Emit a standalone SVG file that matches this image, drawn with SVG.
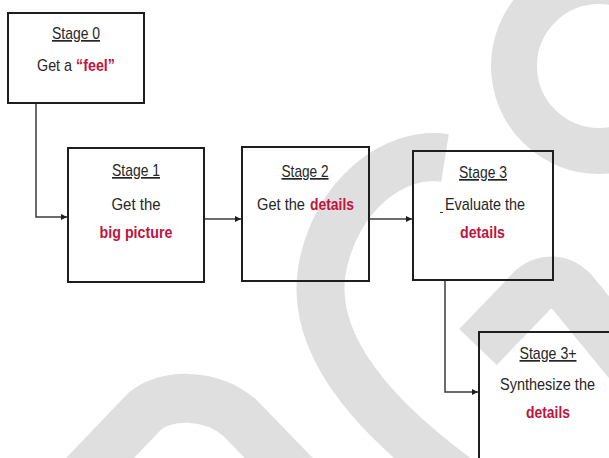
<svg xmlns="http://www.w3.org/2000/svg" width="609" height="458" viewBox="0 0 609 458">
<defs>
<style>
.wm{fill:none;stroke:#dfdfdf;stroke-linecap:butt;stroke-linejoin:round}
.box{fill:none;stroke:#1e1e1e;stroke-width:2}
.t{font-family:"Liberation Sans",Arial,sans-serif;font-size:17px;fill:#262626;text-anchor:middle}
.s{text-anchor:start}
.u{text-decoration:underline}
.r{fill:#c0143c;font-weight:bold}
.con{fill:none;stroke:#3c3c3c;stroke-width:1.5}
</style>
<marker id="ah" markerUnits="userSpaceOnUse" markerWidth="7" markerHeight="6" refX="6" refY="3" orient="auto">
<path d="M0,0 L6,3 L0,6 z" fill="#1e1e1e"/>
</marker>
</defs>
<rect width="609" height="458" fill="#ffffff"/>
<g id="watermark">
<circle class="wm" cx="599" cy="66" r="85" stroke-width="46"/>
<path class="wm" stroke-width="48" d="M445,158 C395,150 335,195 322,270 C312,330 350,400 460,480"/>
<path class="wm" stroke-width="49" d="M55,505 L145,411 C165,394 210,392 240,418 L300,480"/>
<path class="wm" stroke-width="52" d="M478,347 L528,295 C540,280 558,278 572,292 L640,375"/>
</g>
<g id="connectors">
<path class="con" d="M36,103 V217 H67" marker-end="url(#ah)"/>
<path class="con" d="M204,219 H241" marker-end="url(#ah)"/>
<path class="con" d="M369,219 H412" marker-end="url(#ah)"/>
<path class="con" d="M445,280 V392 H478" marker-end="url(#ah)"/>
</g>
<g id="stage0">
<rect class="box" x="8" y="13" width="136" height="90"/>
<text class="t u" x="76" y="39" textLength="48" lengthAdjust="spacingAndGlyphs">Stage 0</text>
<text class="t s" x="37" y="71" textLength="35" lengthAdjust="spacingAndGlyphs">Get a</text>
<text class="t s r" x="76" y="71" textLength="39" lengthAdjust="spacingAndGlyphs">“feel”</text>
</g>
<g id="stage1">
<rect class="box" x="68" y="148" width="136" height="134"/>
<text class="t u" x="136" y="176" textLength="48" lengthAdjust="spacingAndGlyphs">Stage 1</text>
<text class="t" x="136" y="210" textLength="49" lengthAdjust="spacingAndGlyphs">Get the</text>
<text class="t r" x="136" y="238" textLength="73" lengthAdjust="spacingAndGlyphs">big picture</text>
</g>
<g id="stage2">
<rect class="box" x="242" y="147" width="127" height="134"/>
<text class="t u" x="305" y="177" textLength="47" lengthAdjust="spacingAndGlyphs">Stage 2</text>
<text class="t s" x="257" y="210" textLength="48" lengthAdjust="spacingAndGlyphs">Get the</text>
<text class="t s r" x="310" y="210" textLength="44" lengthAdjust="spacingAndGlyphs">details</text>
</g>
<g id="stage3">
<rect class="box" x="413" y="151" width="140" height="129"/>
<text class="t u" x="483" y="178" textLength="48" lengthAdjust="spacingAndGlyphs">Stage 3</text>
<line x1="440" y1="212.5" x2="443" y2="212.5" stroke="#333" stroke-width="1"/>
<text class="t" x="485" y="210" textLength="80" lengthAdjust="spacingAndGlyphs">Evaluate the</text>
<text class="t r" x="482.5" y="238" textLength="45" lengthAdjust="spacingAndGlyphs">details</text>
</g>
<g id="stage3plus">
<rect class="box" x="479" y="332" width="131" height="128"/>
<text class="t u" x="548" y="359" textLength="57" lengthAdjust="spacingAndGlyphs">Stage 3+</text>
<text class="t" x="547.5" y="390" font-size="16" textLength="95" lengthAdjust="spacingAndGlyphs">Synthesize the</text>
<text class="t r" x="548" y="418" textLength="44" lengthAdjust="spacingAndGlyphs">details</text>
</g>
</svg>
